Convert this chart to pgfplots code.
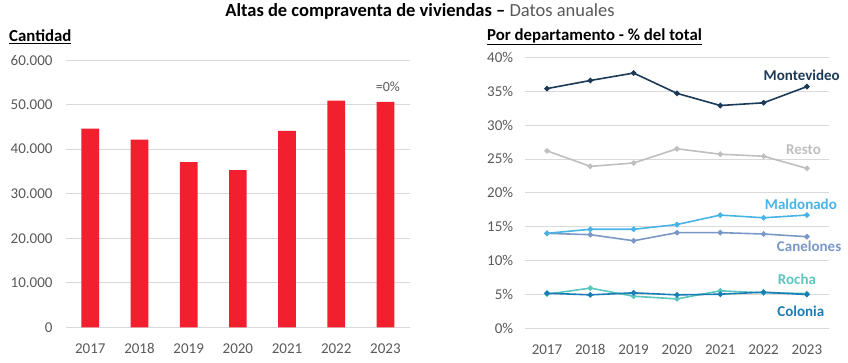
\documentclass[border=0pt]{standalone}
\usepackage{fontspec}
\setmainfont{Carlito}
\usepackage{pgfplots}
\pgfplotsset{compat=1.18}
\definecolor{barred}{HTML}{F21F2E}
\definecolor{gridgray}{HTML}{D9D9D9}
\definecolor{labelgray}{HTML}{595959}
\definecolor{mvd}{HTML}{1B3A57}
\definecolor{resto}{HTML}{BFBFBF}
\definecolor{maldo}{HTML}{48B4E6}
\definecolor{canel}{HTML}{7A98C6}
\definecolor{rocha}{HTML}{5BC6BE}
\definecolor{colon}{HTML}{1A7DB5}
\newcommand{\fs}{\fontsize{15}{18}\selectfont}
\newcommand{\fst}{\fontsize{16.8}{20}\selectfont}
\begin{document}
\begin{tikzpicture}
\path[use as bounding box] (0,0) rectangle (848pt,-363pt);
\node[anchor=center,font=\fontsize{18.5}{22}\selectfont] at (420pt,-11pt) {\textbf{Altas de compraventa de viviendas –} \textcolor{labelgray}{Datos anuales}};
\node[anchor=west,font=\fst\bfseries,inner sep=0pt] at (9pt,-37pt) {\underline{Cantidad}};
\node[anchor=west,font=\fst\bfseries,inner sep=0pt] at (487pt,-37pt) {\underline{Por departamento - \% del total}};

\begin{axis}[
  at={(65.7pt,-327.3pt)}, anchor=south west, scale only axis,
  width=344.3pt, height=267.3pt,
  xmin=-0.5, xmax=6.5, ymin=0, ymax=60000,
  scaled y ticks=false,
  ytick={0,10000,20000,30000,40000,50000,60000},
  yticklabels={0,10.000,20.000,30.000,40.000,50.000,60.000},
  xtick={0,1,2,3,4,5,6},
  xticklabels={2017,2018,2019,2020,2021,2022,2023},
  ymajorgrids, grid style={color=gridgray, line width=0.8pt},
  axis line style={draw=none}, major tick length=0pt,
  tick label style={font=\fs, text=labelgray},
  yticklabel style={anchor=east, inner xsep=0pt, xshift=-13pt},
  xticklabel style={anchor=base, yshift=-26pt},
  clip=false,
]
\addplot[ybar, bar width=17.7pt, fill=barred, draw=none] coordinates {
  (0,44600) (1,42100) (2,37100) (3,35300) (4,44100) (5,50900) (6,50600)};
\node[font=\fontsize{14}{16}\selectfont, text=labelgray] at (axis cs:6.05,54000) {=0\%};
\end{axis}

\begin{axis}[
  at={(525.3pt,-328pt)}, anchor=south west, scale only axis,
  width=303.3pt, height=270.5pt,
  xmin=-0.5, xmax=6.5, ymin=0, ymax=40,
  ytick={0,5,10,15,20,25,30,35,40},
  yticklabels={0\%,5\%,10\%,15\%,20\%,25\%,30\%,35\%,40\%},
  xtick={0,1,2,3,4,5,6},
  xticklabels={2017,2018,2019,2020,2021,2022,2023},
  ymajorgrids, grid style={color=gridgray, line width=0.8pt},
  axis line style={draw=none}, major tick length=0pt,
  tick label style={font=\fs, text=labelgray},
  yticklabel style={anchor=east, inner xsep=0pt, xshift=-12pt},
  xticklabel style={anchor=base, yshift=-26pt},
  clip=false,
  every axis plot/.append style={line width=1.6pt, mark=*, mark size=1.9pt},
]
\addplot[color=resto] coordinates {(0,26.2) (1,23.9) (2,24.4) (3,26.5) (4,25.7) (5,25.4) (6,23.6)};
\addplot[color=canel] coordinates {(0,14.0) (1,13.8) (2,12.9) (3,14.1) (4,14.1) (5,13.9) (6,13.5)};
\addplot[color=maldo] coordinates {(0,14.0) (1,14.6) (2,14.6) (3,15.3) (4,16.7) (5,16.3) (6,16.7)};
\addplot[color=mvd] coordinates {(0,35.4) (1,36.6) (2,37.7) (3,34.7) (4,32.9) (5,33.3) (6,35.7)};
\addplot[color=rocha] coordinates {(0,5.0) (1,5.9) (2,4.7) (3,4.3) (4,5.5) (5,5.2) (6,5.1)};
\addplot[color=colon] coordinates {(0,5.15) (1,4.9) (2,5.2) (3,4.9) (4,5.0) (5,5.3) (6,4.95)};
\node[font=\fs\bfseries, text=mvd] at (axis cs:5.88,37.3) {Montevideo};
\node[font=\fs\bfseries, text=resto] at (axis cs:5.92,26.3) {Resto};
\node[font=\fs\bfseries, text=maldo] at (axis cs:5.86,18.3) {Maldonado};
\node[font=\fs\bfseries, text=canel] at (axis cs:6.05,12.1) {Canelones};
\node[font=\fs\bfseries, text=rocha] at (axis cs:5.77,7.2) {Rocha};
\node[font=\fs\bfseries, text=colon] at (axis cs:5.86,2.5) {Colonia};
\end{axis}
\end{tikzpicture}
\end{document}
